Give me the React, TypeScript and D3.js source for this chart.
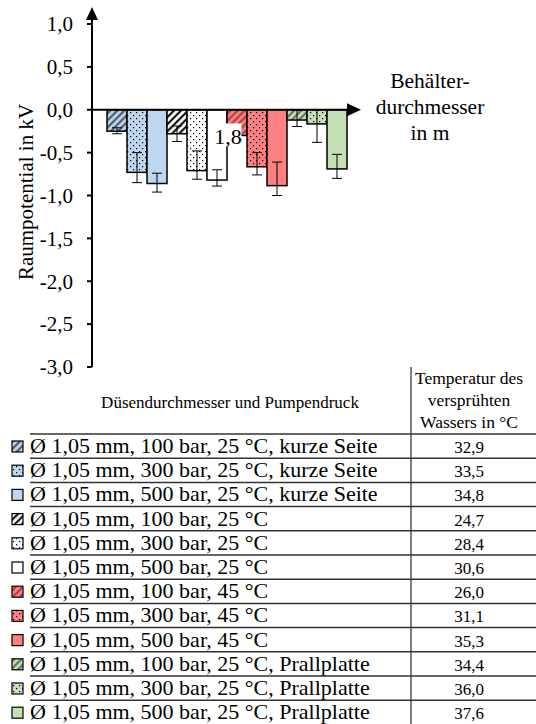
import React from 'react';
import * as d3 from 'd3';

const categories = [
  'Ø 1,05 mm, 100 bar, 25 °C, kurze Seite',
  'Ø 1,05 mm, 300 bar, 25 °C, kurze Seite',
  'Ø 1,05 mm, 500 bar, 25 °C, kurze Seite',
  'Ø 1,05 mm, 100 bar, 25 °C',
  'Ø 1,05 mm, 300 bar, 25 °C',
  'Ø 1,05 mm, 500 bar, 25 °C',
  'Ø 1,05 mm, 100 bar, 45 °C',
  'Ø 1,05 mm, 300 bar, 45 °C',
  'Ø 1,05 mm, 500 bar, 45 °C',
  'Ø 1,05 mm, 100 bar, 25 °C, Prallplatte',
  'Ø 1,05 mm, 300 bar, 25 °C, Prallplatte',
  'Ø 1,05 mm, 500 bar, 25 °C, Prallplatte',
];
const values = [-0.25, -0.73, -0.86, -0.28, -0.71, -0.82, -0.3, -0.665, -0.885, -0.12, -0.165, -0.69];
const errUpper = [-0.21, -0.5, -0.74, -0.19, -0.48, -0.7, -0.25, -0.5, -0.61, 0.0, 0.0, -0.52];
const errLower = [-0.28, -0.85, -0.96, -0.37, -0.81, -0.89, -0.35, -0.76, -1.0, -0.195, -0.38, -0.8];
const temperatures = ['32,9', '33,5', '34,8', '24,7', '28,4', '30,6', '26,0', '31,1', '35,3', '34,4', '36,0', '37,6'];
const yTicks = [1, 0.5, 0, -0.5, -1, -1.5, -2, -2.5, -3];
const dataLabel = '1,8';
const dataLabelIndex = 6;
const xAxisTitle = ['Behälter-', 'durchmesser', 'in m'];
const yAxisTitle = 'Raumpotential in kV';
const tableHeaderLeft = 'Düsendurchmesser und Pumpendruck';
const tableHeaderRight = ['Temperatur des', 'versprühten', 'Wassers in °C'];

const groupColors = ['#bdd7ee', '#ffffff', '#ff8080', '#c5e0b4'];
const hatchColors = ['#3f4f5f', '#000000', '#a83a3a', '#5a6a50'];
const kinds = ['hatch', 'dots', 'solid'];

const locale = d3.formatLocale({ decimal: ',', thousands: '.', grouping: [3], currency: ['', '€'], minus: '-' });
const fmt = locale.format('.1f');

function fillFor(i: number) {
  const g = Math.floor(i / 3);
  const k = kinds[i % 3];
  if (k === 'solid') return groupColors[g];
  return `url(#${k}${g})`;
}

function T(props: any) {
  const { children, ...rest } = props;
  return (
    <text fill="#000" fontFamily="Liberation Serif" style={{ fontFamily: "'Liberation Serif'" }} {...rest}>{children}</text>
  );
}

export default function App() {
  const W = 536;
  const H = 724;
  const axisX = 92;
  const y = d3.scaleLinear().domain([-3, 1]).range([367, 24]);
  const x = d3.scaleBand<number>().domain(d3.range(values.length)).range([107, 347]).padding(0);
  const y0 = y(0);
  const bw = x.bandwidth();

  const rowTop = (i: number) => 434 + i * 24.2;

  return (
    <svg width={W} height={H} style={{ position: 'absolute', left: 0, top: 0, display: 'block', background: '#fff' }}>
      <style>{`text { font-family: 'Liberation Serif', serif; }`}</style>
      <defs>
        {groupColors.map((c, g) => (
          <pattern key={'h' + g} id={'hatch' + g} patternUnits="userSpaceOnUse" width={5} height={5} patternTransform="rotate(45)">
            <rect width={5} height={5} fill={c} />
            <line x1={1.2} y1={0} x2={1.2} y2={5} stroke={hatchColors[g]} strokeWidth={2} />
          </pattern>
        ))}
        {groupColors.map((c, g) => (
          <pattern key={'d' + g} id={'dots' + g} patternUnits="userSpaceOnUse" width={6} height={6}>
            <rect width={6} height={6} fill={c} />
            <rect x={1} y={1} width={1.2} height={1.2} fill="#000" />
            <rect x={4} y={4} width={1.2} height={1.2} fill="#000" />
          </pattern>
        ))}
      </defs>

      {values.map((v, i) => (
        <rect key={'b' + i} x={x(i)} y={Math.min(y(v), y0)} width={bw} height={Math.abs(y(v) - y0)}
          fill={fillFor(i)} stroke="#000" strokeWidth={1.5} />
      ))}
      {values.map((v, i) => {
        const cx = (x(i) as number) + bw / 2;
        return (
          <g key={'e' + i} stroke="#000" strokeWidth={1}>
            <line x1={cx} x2={cx} y1={y(errUpper[i])} y2={y(errLower[i])} />
            <line x1={cx - 5} x2={cx + 5} y1={y(errUpper[i])} y2={y(errUpper[i])} />
            <line x1={cx - 5} x2={cx + 5} y1={y(errLower[i])} y2={y(errLower[i])} />
          </g>
        );
      })}

      {(() => {
        const cx = x(dataLabelIndex) as number;
        const cy = y(values[dataLabelIndex]);
        return (
          <g>
            <rect x={cx - 14.5} y={cy - 12} width={29} height={23} fill="#fff" />
            <T x={cx + 1} y={cy + 9} textAnchor="middle" fontSize={22}>{dataLabel}</T>
          </g>
        );
      })()}

      <line x1={axisX} x2={axisX} y1={y(-3)} y2={19} stroke="#000" strokeWidth={2} />
      <path d={`M${axisX},7 L${axisX - 6},20 L${axisX + 6},20 Z`} fill="#000" />
      {yTicks.map((t) => (
        <g key={'t' + t}>
          <line x1={axisX - 5} x2={axisX} y1={y(t)} y2={y(t)} stroke="#000" strokeWidth={2} />
          <T x={73} y={y(t)} dy="0.35em" textAnchor="end" fontSize={21}>{fmt(t)}</T>
        </g>
      ))}
      <line x1={axisX} x2={348} y1={y0} y2={y0} stroke="#000" strokeWidth={2} />
      <path d={`M361,${y0} L347,${y0 - 6.5} L347,${y0 + 6.5} Z`} fill="#000" />

      <T transform={`translate(33,192) rotate(-90)`} textAnchor="middle" fontSize={21}>{yAxisTitle}</T>
      {xAxisTitle.map((s, k) => (
        <T key={'xt' + k} x={430} y={88 + k * 26} textAnchor="middle" fontSize={21.5}>{s}</T>
      ))}

      <line x1={411} x2={411} y1={367} y2={H} stroke="#000" strokeWidth={1} />
      <T x={230} y={408} textAnchor="middle" fontSize={17}>{tableHeaderLeft}</T>
      {tableHeaderRight.map((s, k) => (
        <T key={'th' + k} x={469} y={384 + k * 22} textAnchor="middle" fontSize={17.5}>{s}</T>
      ))}
      {categories.map((c, i) => {
        const top = rowTop(i);
        return (
          <g key={'r' + i}>
            <line x1={30} x2={W} y1={top} y2={top} stroke="#333" strokeWidth={1.5} />
            <rect x={12} y={top + 7} width={11} height={11} fill={fillFor(i)} stroke="#000" strokeWidth={1.2} />
            <T x={30} y={top + 19} fontSize={22}>{c}</T>
            <T x={469} y={top + 19} textAnchor="middle" fontSize={17}>{temperatures[i]}</T>
          </g>
        );
      })}
    </svg>
  );
}
